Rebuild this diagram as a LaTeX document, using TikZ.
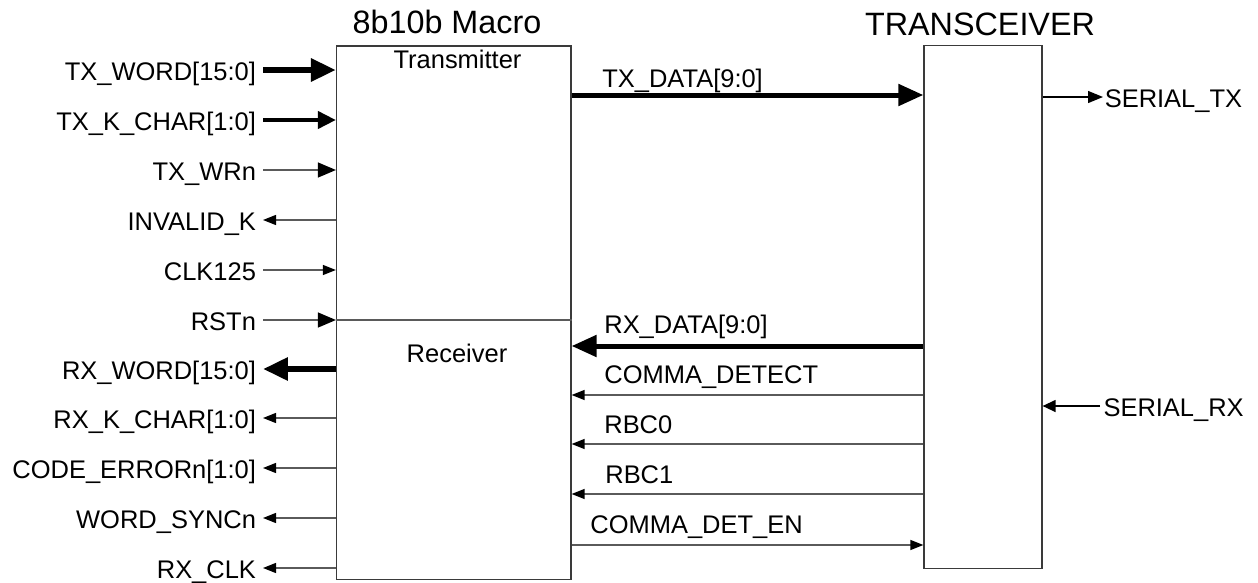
\documentclass[tikz,border=0pt]{standalone}
\usepackage{fontspec}
\setmainfont{Liberation Sans}
\usepackage{xcolor}
\usetikzlibrary{arrows.meta}
\definecolor{WireGray}{HTML}{5A5A5A}
\definecolor{EdgeGray}{HTML}{3A3A3A}

\begin{document}
\begin{tikzpicture}[
    x=0.02cm, y=-0.02cm,
    lbl/.style={font=\fontsize{14.5}{17}\selectfont, inner sep=0pt,
                text height=13pt, text depth=1.6pt},
    pin/.style={lbl, outer sep=4pt},
    title/.style={font=\fontsize{18.4}{22}\selectfont, inner sep=0pt},
    block/.style={rectangle, draw=EdgeGray, line width=0.025cm},
    wire/.style={draw=WireGray, line width=0.026cm},
    bigtip/.style={-{Triangle[length=0.36cm, width=0.3cm, color=black]}},
    smalltip/.style={-{Triangle[length=0.26cm, width=0.2cm, color=black]}},
    bigbus/.style={line width=0.12cm, -{Triangle[length=0.5cm, width=0.44cm]}},
    bus/.style={line width=0.1cm, -{Triangle[length=0.5cm, width=0.42cm]}},
    midbus/.style={line width=0.08cm, -{Triangle[length=0.36cm, width=0.34cm]}}
]
    \useasboundingbox (0,0) rectangle (1258,582);

    % Blocks
    \node[block, minimum width=4.69cm, minimum height=10.68cm] (macro) at (453.75,312.9) {};
    \node[block, minimum width=2.36cm, minimum height=10.46cm] (xcvr) at (983,307.2) {};
    \coordinate (split) at (0,320);
    \draw[wire] (macro.west |- split) -- (macro.east |- split);

    \node[title, anchor=base] (macrottl) at (447,33) {8b10b Macro};
    \node[title, anchor=base] (xcvrttl) at (980,35) {TRANSCEIVER};
    \node[lbl, anchor=base] (txblk) at (457.5,68) {Transmitter};
    \node[lbl, anchor=base] (rxblk) at (457,362) {Receiver};

    % Macro ports
    \node[pin, anchor=east] (txword) at (263,70) {TX\_WORD[15:0]};
    \node[pin, anchor=east] (txkchar) at (263,120) {TX\_K\_CHAR[1:0]};
    \node[pin, anchor=east] (txwrn) at (263,170) {TX\_WRn};
    \node[pin, anchor=east] (invk) at (263,220) {INVALID\_K};
    \node[pin, anchor=east] (clk) at (263,270) {CLK125};
    \node[pin, anchor=east] (rstn) at (263,320) {RSTn};
    \node[pin, anchor=east] (rxword) at (263,369) {RX\_WORD[15:0]};
    \node[pin, anchor=east] (rxkchar) at (263,418) {RX\_K\_CHAR[1:0]};
    \node[pin, anchor=east] (coderr) at (263,468) {CODE\_ERRORn[1:0]};
    \node[pin, anchor=east] (wsync) at (263,518) {WORD\_SYNCn};
    \node[pin, anchor=east] (rxclk) at (263,568) {RX\_CLK};

    \draw[bigbus] (txword) -- (txword -| macro.west);
    \draw[midbus] (txkchar) -- (txkchar -| macro.west);
    \draw[wire, bigtip] (txwrn) -- (txwrn -| macro.west);
    \draw[wire, smalltip] (macro.west |- invk) -- (invk);
    \draw[wire, smalltip] (clk) -- (clk -| macro.west);
    \draw[wire, bigtip] (rstn) -- (rstn -| macro.west);
    \draw[bigbus] (macro.west |- rxword) -- (rxword);
    \draw[wire, smalltip] (macro.west |- rxkchar) -- (rxkchar);
    \draw[wire, smalltip] (macro.west |- coderr) -- (coderr);
    \draw[wire, smalltip] (macro.west |- wsync) -- (wsync);
    \draw[wire, smalltip] (macro.west |- rxclk) -- (rxclk);

    % Macro to transceiver
    \coordinate (txd) at (0,95);
    \coordinate (rxd) at (0,346);
    \coordinate (cdet) at (0,395);
    \coordinate (rbc0) at (0,444);
    \coordinate (rbc1) at (0,494);
    \coordinate (cden) at (0,545);

    \draw[bus] (macro.east |- txd) -- (xcvr.west |- txd);
    \draw[bus] (xcvr.west |- rxd) -- (macro.east |- rxd);
    \draw[wire, smalltip] (xcvr.west |- cdet) -- (macro.east |- cdet);
    \draw[wire, smalltip] (xcvr.west |- rbc0) -- (macro.east |- rbc0);
    \draw[wire, smalltip] (xcvr.west |- rbc1) -- (macro.east |- rbc1);
    \draw[wire, smalltip] (macro.east |- cden) -- (xcvr.west |- cden);

    \node[lbl, anchor=base west] (txdlbl) at (602,87) {TX\_DATA[9:0]};
    \node[lbl, anchor=base west] (rxdlbl) at (604,333) {RX\_DATA[9:0]};
    \node[lbl, anchor=base west] (cdetlbl) at (604,383) {COMMA\_DETECT};
    \node[lbl, anchor=base west] (rbc0lbl) at (604,433) {RBC0};
    \node[lbl, anchor=base west] (rbc1lbl) at (605,483) {RBC1};
    \node[lbl, anchor=base west] (cdenlbl) at (590,533) {COMMA\_DET\_EN};

    % Serial side
    \node[lbl, anchor=west, outer sep=1pt] (sertx) at (1103,97) {SERIAL\_TX};
    \node[lbl, anchor=west, outer sep=2pt] (serrx) at (1100,406) {SERIAL\_RX};
    \draw[line width=0.026cm, -{Triangle[length=0.3cm, width=0.24cm]}] (xcvr.east |- sertx) -- (sertx);
    \draw[line width=0.026cm, -{Triangle[length=0.26cm, width=0.24cm]}] (serrx) -- (serrx -| xcvr.east);
\end{tikzpicture}
\end{document}
